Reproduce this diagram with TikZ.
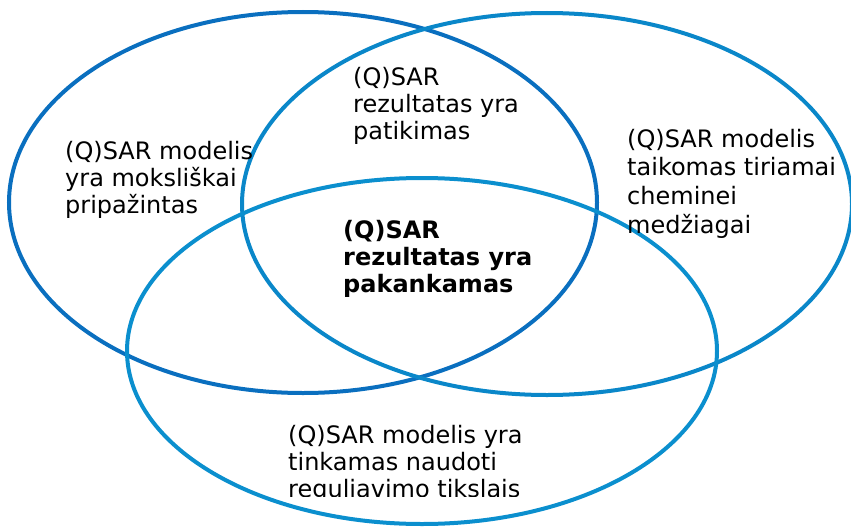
\documentclass[tikz,border=0pt]{standalone}
\usepackage{fontspec}
\setmainfont{DejaVu Sans}
\definecolor{darkblue}{HTML}{0A6FBF}
\definecolor{midblue}{HTML}{0A87C9}
\definecolor{lightblue}{HTML}{0B8FCE}
\tikzset{
  ring/.style={line width=4pt},
  label/.style={anchor=north west, inner sep=0pt, align=left, text=black,
    font=\fontsize{24}{27}\selectfont},
}
\newcommand{\fs}{\rule{0pt}{20pt}}
\begin{document}
\begin{tikzpicture}[x=1pt,y=-1pt]
\useasboundingbox (0,0) rectangle (851,527);
\clip (0,0) rectangle (851,527);
\draw[ring, darkblue] (303,202.5) ellipse [x radius=294pt, y radius=190.5pt];
\draw[ring, midblue] (547,204) ellipse [x radius=305pt, y radius=191pt];
\draw[ring, lightblue] (422,351) ellipse [x radius=295pt, y radius=173pt];
\node[label] (sci) at (65,139) {\fs(Q)SAR modelis\\yra moksliškai\\pripažintas};
\node[label] (rel) at (353,65) {\fs(Q)SAR\\rezultatas yra\\patikimas};
\node[label, font=\fontsize{24}{28.7}\selectfont] (app) at (627,127) {\fs(Q)SAR modelis\\taikomas tiriamai\\cheminei\\medžiagai};
\node[label, font=\fontsize{24}{27}\selectfont\bfseries] (suf) at (343,218) {\fs(Q)SAR\\rezultatas yra\\pakankamas};
\begin{scope}
\clip (270,400) rectangle (600,496);
\node[label] (reg) at (288,423) {\fs(Q)SAR modelis yra\\tinkamas naudoti\\reguliavimo tikslais};
\end{scope}
\end{tikzpicture}
\end{document}
